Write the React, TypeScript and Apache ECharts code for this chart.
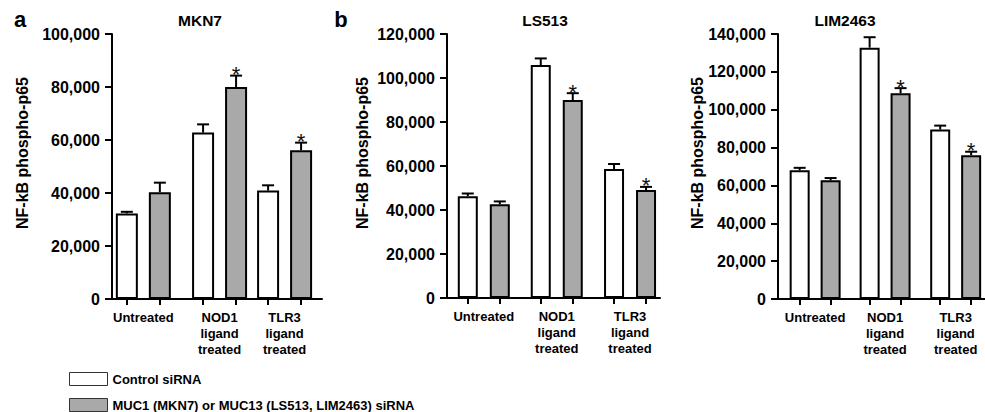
import React, { useEffect, useRef } from "react";
import * as echarts from "echarts";

const FONT = '"Liberation Sans", Arial, Helvetica, sans-serif';

// ---------- data ----------
const categories = ["Untreated", "NOD1\nligand\ntreated", "TLR3\nligand\ntreated"];
const panelTitles = ["MKN7", "LS513", "LIM2463"];
const panelLetters = ["a", "b", ""];
const yMax = [100000, 120000, 140000];
const seriesNames = ["Control siRNA", "MUC1 (MKN7) or MUC13 (LS513, LIM2463) siRNA"];

const mkn7Control = [32300, 62800, 40900];
const mkn7ControlErr = [600, 3100, 2000];
const mkn7Sirna = [40300, 80000, 56100];
const mkn7SirnaErr = [3600, 4300, 2900];

const ls513Control = [46300, 105900, 58600];
const ls513ControlErr = [1200, 3000, 2300];
const ls513Sirna = [42600, 90000, 49100];
const ls513SirnaErr = [1300, 3100, 1400];

const lim2463Control = [68000, 132800, 89500];
const lim2463ControlErr = [1300, 5500, 2100];
const lim2463Sirna = [62700, 108700, 76000];
const lim2463SirnaErr = [1200, 2700, 1800];

// significance (*) for siRNA bars per category
const sirnaSignificant = [false, true, true];

const controls = [mkn7Control, ls513Control, lim2463Control];
const controlErrs = [mkn7ControlErr, ls513ControlErr, lim2463ControlErr];
const sirnas = [mkn7Sirna, ls513Sirna, lim2463Sirna];
const sirnaErrs = [mkn7SirnaErr, ls513SirnaErr, lim2463SirnaErr];

// ---------- layout ----------
const layouts = [
  { left: 112, top: 34, width: 210, height: 265, slot: 33, pos: [0.45, 1.45, 2.76, 3.76, 4.73, 5.73], barW: 22, nameX: 22, letterX: 20, titleX: 200 },
  { left: 447, top: 34, width: 213, height: 264, slot: 32, pos: [0.65, 1.65, 2.93, 3.93, 5.22, 6.22], barW: 20, nameX: 362, letterX: 341, titleX: 545 },
  { left: 778, top: 34, width: 214, height: 265, slot: 32, pos: [0.7, 1.7, 2.96, 3.96, 5.24, 6.24], barW: 20, nameX: 697, letterX: 0, titleX: 845 },
];

const WHITE = "#ffffff";
const GREY = "#a9a9a9";

const legendText = { color: "#000", fontFamily: FONT, fontWeight: "bold", fontSize: 13, lineHeight: 14 };

export default function App() {
  const ref = useRef<HTMLDivElement>(null);

  useEffect(() => {
    document.body.style.margin = "0";
    const chart = echarts.init(ref.current as HTMLDivElement, null, { renderer: "svg" });

    const grid: any[] = [];
    const xAxis: any[] = [];
    const yAxis: any[] = [];
    const series: any[] = [];
    const graphic: any[] = [];

    layouts.forEach((L, i) => {
      const centers = categories.map((_, g) => (L.pos[2 * g] + L.pos[2 * g + 1]) / 2);
      grid.push({ left: L.left, top: L.top, width: L.width, height: L.height, containLabel: false });
      xAxis.push({
        type: "value",
        gridIndex: i,
        min: 0,
        max: L.width / L.slot,
        splitLine: { show: false },
        axisLine: { show: true, onZero: false, lineStyle: { color: "#000", width: 2 } },
        axisTick: { show: true, customValues: L.pos, length: 6, lineStyle: { color: "#000", width: 2 } },
        axisLabel: {
          customValues: centers,
          margin: 10,
          color: "#000",
          fontFamily: FONT,
          fontWeight: "bold",
          fontSize: 13,
          lineHeight: 16,
          formatter: (v: number) => {
            let best = 0;
            centers.forEach((c, k) => {
              if (Math.abs(c - v) < Math.abs(centers[best] - v)) best = k;
            });
            return categories[best];
          },
        },
      });
      yAxis.push({
        type: "value",
        gridIndex: i,
        min: 0,
        max: yMax[i],
        interval: 20000,
        splitLine: { show: false },
        axisLine: { show: true, lineStyle: { color: "#000", width: 2 } },
        axisTick: { show: true, length: 7, lineStyle: { color: "#000", width: 2 } },
        axisLabel: {
          margin: 12,
          color: "#000",
          fontFamily: FONT,
          fontWeight: "bold",
          fontSize: 16,
          formatter: (v: number) => v.toLocaleString("en-US"),
        },
      });

      const ctrl = controls[i];
      const si = sirnas[i];
      series.push({
        type: "bar",
        name: seriesNames[0],
        xAxisIndex: i,
        yAxisIndex: i,
        barWidth: L.barW,
        barGap: "-100%",
        data: ctrl.map((v, g) => [L.pos[2 * g], v]),
        itemStyle: { color: WHITE, borderColor: "#000", borderWidth: 2 },
        z: 2,
      });
      series.push({
        type: "bar",
        name: seriesNames[1],
        xAxisIndex: i,
        yAxisIndex: i,
        barWidth: L.barW,
        barGap: "-100%",
        data: si.map((v, g) => [L.pos[2 * g + 1], v]),
        itemStyle: { color: GREY, borderColor: "#000", borderWidth: 2 },
        z: 2,
      });

      const errData: any[] = [];
      ctrl.forEach((v, g) => errData.push([L.pos[2 * g], v, controlErrs[i][g], 0]));
      si.forEach((v, g) => errData.push([L.pos[2 * g + 1], v, sirnaErrs[i][g], sirnaSignificant[g] ? 1 : 0]));

      series.push({
        type: "custom",
        xAxisIndex: i,
        yAxisIndex: i,
        data: errData,
        encode: { x: 0, y: 1 },
        z: 3,
        clip: false,
        renderItem: (_params: any, api: any) => {
          const x = api.value(0);
          const v = api.value(1);
          const e = api.value(2);
          const s = api.value(3);
          const p0 = api.coord([x, v]);
          const p1 = api.coord([x, v + e]);
          const children: any[] = [
            { type: "line", shape: { x1: p0[0], y1: p0[1], x2: p1[0], y2: p1[1] }, style: { stroke: "#000", lineWidth: 2 } },
            { type: "line", shape: { x1: p1[0] - 6, y1: p1[1], x2: p1[0] + 6, y2: p1[1] }, style: { stroke: "#000", lineWidth: 2 } },
          ];
          if (s) {
            children.push({
              type: "text",
              x: p1[0],
              y: p1[1] + 10,
              style: {
                text: "*",
                fill: "#111",
                fontFamily: FONT,
                fontSize: 22,
                align: "center",
                verticalAlign: "bottom",
                textAlign: "center",
                textVerticalAlign: "bottom",
              },
            });
          }
          return { type: "group", children };
        },
      });

      graphic.push({
        type: "text",
        x: L.nameX,
        y: 153,
        rotation: Math.PI / 2,
        style: {
          text: "NF-kB phospho-p65",
          fill: "#000",
          fontFamily: FONT,
          fontWeight: "bold",
          fontSize: 16,
          align: "center",
          verticalAlign: "middle",
          textAlign: "center",
          textVerticalAlign: "middle",
        },
      });
      graphic.push({
        type: "text",
        x: L.titleX,
        y: 28,
        style: {
          text: panelTitles[i],
          fill: "#000",
          fontFamily: FONT,
          fontWeight: "bold",
          fontSize: 15.5,
          align: "center",
          verticalAlign: "bottom",
          textAlign: "center",
          textVerticalAlign: "bottom",
        },
      });
      if (panelLetters[i]) {
        graphic.push({
          type: "text",
          x: L.letterX,
          y: 30,
          style: {
            text: panelLetters[i],
            fill: "#000",
            fontFamily: FONT,
            fontWeight: "bold",
            fontSize: 22,
            align: "center",
            verticalAlign: "bottom",
            textAlign: "center",
            textVerticalAlign: "bottom",
          },
        });
      }
    });

    chart.setOption({
      animation: false,
      backgroundColor: "#ffffff",
      grid,
      xAxis,
      yAxis,
      series,
      graphic,
      legend: [
        {
          left: 69,
          top: 372,
          padding: 0,
          itemWidth: 38,
          itemHeight: 13,
          icon: "rect",
          selectedMode: false,
          data: [{ name: seriesNames[0], itemStyle: { color: WHITE, borderColor: "#333", borderWidth: 1 } }],
          textStyle: legendText,
        },
        {
          left: 69,
          top: 398,
          padding: 0,
          itemWidth: 38,
          itemHeight: 13,
          icon: "rect",
          selectedMode: false,
          data: [{ name: seriesNames[1], itemStyle: { color: GREY, borderColor: "#333", borderWidth: 1 } }],
          textStyle: legendText,
        },
      ],
    });

    return () => chart.dispose();
  }, []);

  return <div ref={ref} style={{ width: 985, height: 412 }} />;
}
